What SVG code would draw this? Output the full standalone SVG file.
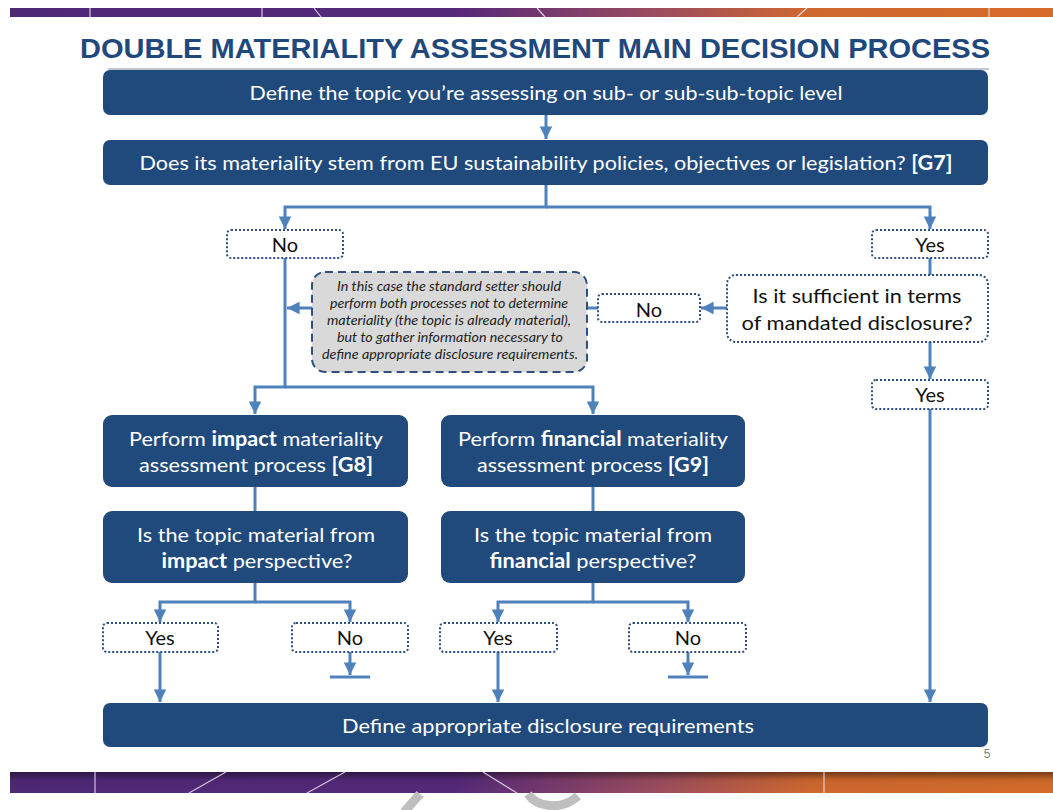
<svg xmlns="http://www.w3.org/2000/svg" width="1053" height="810" viewBox="0 0 1053 810">
<defs>
<linearGradient id="band" x1="0" y1="0" x2="1053" y2="0" gradientUnits="userSpaceOnUse">
<stop offset="0" stop-color="#4e2977"/>
<stop offset="0.43" stop-color="#55297a"/>
<stop offset="0.62" stop-color="#9a4c60"/>
<stop offset="0.77" stop-color="#cf682f"/>
<stop offset="1" stop-color="#d56c2a"/>
</linearGradient>
<linearGradient id="shade" x1="0" y1="0" x2="0" y2="1">
<stop offset="0" stop-color="#000" stop-opacity="0.45"/>
<stop offset="0.4" stop-color="#000" stop-opacity="0.05"/>
<stop offset="1" stop-color="#000" stop-opacity="0"/>
</linearGradient>
<marker id="ah" viewBox="0 0 10 10" refX="10" refY="5" markerWidth="4.2" markerHeight="4.2" markerUnits="strokeWidth" orient="auto">
<path d="M0,0 L10,5 L0,10 z" fill="#4f81bd"/>
</marker>
<style>
.box{fill:#214a7c;}
.wt{fill:#ffffff;font-family:Lato,"Open Sans","Liberation Sans",sans-serif;font-size:20px;}
.bt{fill:#111111;font-family:Lato,"Open Sans","Liberation Sans",sans-serif;font-size:20px;}
.dot{fill:#ffffff;stroke:#2f4f7f;stroke-width:2;stroke-dasharray:2 2;}
.c{fill:none;stroke:#4f81bd;stroke-width:3;}
.b{font-weight:bold;}
.it{fill:#222222;font-family:Lato,"Open Sans","Liberation Sans",sans-serif;font-size:12.5px;font-style:italic;}
</style>
</defs>

<!-- top band -->
<rect x="10" y="8" width="1043" height="9" fill="url(#band)"/>
<g stroke="#e8e0f0" stroke-width="1.2" opacity="0.9">
<line x1="90" y1="8" x2="90" y2="17"/>
<line x1="262" y1="8" x2="262" y2="17"/>
<line x1="314" y1="8" x2="321" y2="17"/>
<line x1="537" y1="8" x2="545" y2="17"/>
<line x1="807" y1="8" x2="797" y2="17"/>
<line x1="989" y1="8" x2="989" y2="17"/>
</g>
<!-- bottom band -->
<rect x="10" y="772" width="1043" height="21" fill="url(#band)"/>
<rect x="10" y="772" width="1043" height="21" fill="url(#shade)"/>
<g stroke="#e8e0f0" stroke-width="1.2" opacity="0.85">
<line x1="95" y1="772" x2="95" y2="793"/>
<line x1="226" y1="772" x2="189" y2="793"/>
<line x1="345" y1="772" x2="307" y2="793"/>
<line x1="483" y1="772" x2="517" y2="793"/>
<line x1="824" y1="772" x2="824" y2="793"/>
</g>
<!-- faint watermark fragments -->
<g fill="none" stroke="#bfbfbf" stroke-width="9">
<path d="M404,812 L420,794"/>
<path d="M528,794 C536,806 560,812 578,796"/>
</g>

<!-- title -->
<line x1="108" y1="69" x2="989" y2="69" stroke="#aab2c2" stroke-width="1.5"/>
<text x="535" y="58" text-anchor="middle" textLength="910" lengthAdjust="spacingAndGlyphs" style="font-family:'Liberation Sans Narrow','Liberation Sans',sans-serif;font-size:28px;font-weight:bold;fill:#1f497d;">DOUBLE MATERIALITY ASSESSMENT MAIN DECISION PROCESS</text>

<!-- connectors -->
<g id="connectors">
<path class="c" d="M546,115 V139" marker-end="url(#ah)"/>
<path class="c" d="M546,185 V207 H285 V229" marker-end="url(#ah)"/>
<path class="c" d="M546,207 H930 V229" marker-end="url(#ah)"/>
<path class="c" d="M285,258 V387 H255 V414" marker-end="url(#ah)"/>
<path class="c" d="M285,387 H593 V414" marker-end="url(#ah)"/>
<path class="c" d="M312,308 H287" marker-end="url(#ah)"/>
<path class="c" d="M587,308 H598"/>
<path class="c" d="M727,308 H701" marker-end="url(#ah)"/>
<path class="c" d="M930,258 V275"/>
<path class="c" d="M930,342 V379" marker-end="url(#ah)"/>
<path class="c" d="M930,409 V702" marker-end="url(#ah)"/>
<path class="c" d="M255,487 V511"/>
<path class="c" d="M255,583 V602 H160 V622" marker-end="url(#ah)"/>
<path class="c" d="M255,602 H350 V622" marker-end="url(#ah)"/>
<path class="c" d="M160,652 V702" marker-end="url(#ah)"/>
<path class="c" d="M350,652 V675" marker-end="url(#ah)"/>
<path class="c" d="M330,677 H370"/>
<path class="c" d="M593,487 V511"/>
<path class="c" d="M593,583 V602 H498 V622" marker-end="url(#ah)"/>
<path class="c" d="M593,602 H688 V622" marker-end="url(#ah)"/>
<path class="c" d="M498,652 V702" marker-end="url(#ah)"/>
<path class="c" d="M688,652 V675" marker-end="url(#ah)"/>
<path class="c" d="M668,677 H708"/>
</g>

<g id="define-topic">
<rect class="box" x="103" y="70" width="885" height="45" rx="7"/>
<text class="wt" x="546" y="100" text-anchor="middle" textLength="593" lengthAdjust="spacingAndGlyphs">Define the topic you’re assessing on sub- or sub-sub-topic level</text>
</g>
<g id="eu-question">
<rect class="box" x="103" y="140" width="885" height="45" rx="7"/>
<text class="wt" x="546" y="170" text-anchor="middle" textLength="813" lengthAdjust="spacingAndGlyphs">Does its materiality stem from EU sustainability policies, objectives or legislation? <tspan class="b">[G7]</tspan></text>
</g>
<g id="no-1">
<rect class="dot" x="227" y="230" width="116" height="28" rx="4"/>
<text class="bt" x="285" y="252" text-anchor="middle">No</text>
</g>
<g id="yes-1">
<rect class="dot" x="872" y="230" width="116" height="28" rx="4"/>
<text class="bt" x="930" y="252" text-anchor="middle">Yes</text>
</g>
<g id="note">
<rect x="312" y="272" width="275" height="100" rx="13" fill="#d9d9d9" stroke="#2f4f7f" stroke-width="2" stroke-dasharray="8 5"/>
<text class="it" x="449" y="291" text-anchor="middle" textLength="224" lengthAdjust="spacingAndGlyphs">In this case the standard setter should</text>
<text class="it" x="449" y="308" text-anchor="middle" textLength="238" lengthAdjust="spacingAndGlyphs">perform both processes not to determine</text>
<text class="it" x="449" y="325" text-anchor="middle" textLength="244" lengthAdjust="spacingAndGlyphs">materiality (the topic is already material),</text>
<text class="it" x="450" y="342" text-anchor="middle" textLength="226" lengthAdjust="spacingAndGlyphs">but to gather information necessary to</text>
<text class="it" x="450" y="359" text-anchor="middle" textLength="256" lengthAdjust="spacingAndGlyphs">define appropriate disclosure requirements.</text>
</g>
<g id="no-2">
<rect class="dot" x="598" y="294" width="102" height="28" rx="4"/>
<text class="bt" x="649" y="317" text-anchor="middle">No</text>
</g>
<g id="sufficient-question">
<rect class="dot" x="727" y="275" width="261" height="67" rx="9"/>
<text class="bt" x="857" y="303" text-anchor="middle" textLength="209" lengthAdjust="spacingAndGlyphs">Is it sufficient in terms</text>
<text class="bt" x="857" y="330" text-anchor="middle" textLength="231" lengthAdjust="spacingAndGlyphs">of mandated disclosure?</text>
</g>
<g id="yes-2">
<rect class="dot" x="872" y="380" width="116" height="29" rx="4"/>
<text class="bt" x="930" y="402" text-anchor="middle">Yes</text>
</g>
<g id="impact-process">
<rect class="box" x="103" y="415" width="305" height="72" rx="9"/>
<text class="wt" x="256" y="446" text-anchor="middle" textLength="254" lengthAdjust="spacingAndGlyphs">Perform <tspan class="b">impact</tspan> materiality</text>
<text class="wt" x="256" y="472" text-anchor="middle" textLength="234" lengthAdjust="spacingAndGlyphs">assessment process <tspan class="b">[G8]</tspan></text>
</g>
<g id="impact-question">
<rect class="box" x="103" y="511" width="305" height="72" rx="9"/>
<text class="wt" x="256" y="542" text-anchor="middle" textLength="238" lengthAdjust="spacingAndGlyphs">Is the topic material from</text>
<text class="wt" x="257" y="568" text-anchor="middle" textLength="191" lengthAdjust="spacingAndGlyphs"><tspan class="b">impact</tspan> perspective?</text>
</g>
<g id="financial-process">
<rect class="box" x="441" y="415" width="304" height="72" rx="9"/>
<text class="wt" x="593" y="446" text-anchor="middle" textLength="270" lengthAdjust="spacingAndGlyphs">Perform <tspan class="b">financial</tspan> materiality</text>
<text class="wt" x="593" y="472" text-anchor="middle" textLength="232" lengthAdjust="spacingAndGlyphs">assessment process <tspan class="b">[G9]</tspan></text>
</g>
<g id="financial-question">
<rect class="box" x="441" y="511" width="304" height="72" rx="9"/>
<text class="wt" x="593" y="542" text-anchor="middle" textLength="238" lengthAdjust="spacingAndGlyphs">Is the topic material from</text>
<text class="wt" x="593" y="568" text-anchor="middle" textLength="207" lengthAdjust="spacingAndGlyphs"><tspan class="b">financial</tspan> perspective?</text>
</g>
<g id="impact-yes">
<rect class="dot" x="103" y="623" width="115" height="29" rx="4"/>
<text class="bt" x="160" y="645" text-anchor="middle">Yes</text>
</g>
<g id="impact-no">
<rect class="dot" x="292" y="623" width="116" height="29" rx="4"/>
<text class="bt" x="350" y="645" text-anchor="middle">No</text>
</g>
<g id="financial-yes">
<rect class="dot" x="440" y="623" width="117" height="29" rx="4"/>
<text class="bt" x="498" y="645" text-anchor="middle">Yes</text>
</g>
<g id="financial-no">
<rect class="dot" x="629" y="623" width="117" height="29" rx="4"/>
<text class="bt" x="688" y="645" text-anchor="middle">No</text>
</g>
<g id="define-requirements">
<rect class="box" x="103" y="703" width="885" height="44" rx="7"/>
<text class="wt" x="548" y="733" text-anchor="middle" textLength="412" lengthAdjust="spacingAndGlyphs">Define appropriate disclosure requirements</text>
</g>
<text x="987" y="758" text-anchor="middle" style="font-family:'Liberation Sans Narrow','Liberation Sans',sans-serif;font-size:12px;fill:#7f7f7f;">5</text>
</svg>
